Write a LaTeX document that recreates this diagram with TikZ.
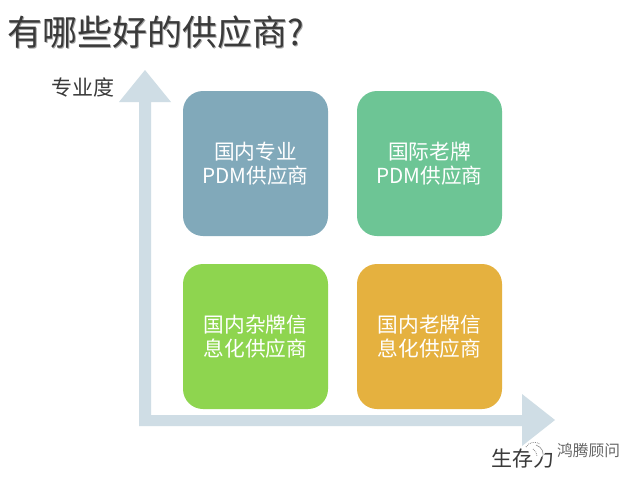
\documentclass[tikz,border=0pt]{standalone}
\usepackage{fontspec}
\setmainfont{Noto Sans CJK SC}
\usetikzlibrary{calc}
\definecolor{axiscol}{HTML}{CFDDE5}
\definecolor{bluebox}{HTML}{81A9BA}
\definecolor{greenbox}{HTML}{6DC595}
\definecolor{limebox}{HTML}{8ED54F}
\definecolor{orangebox}{HTML}{E5B13F}
\definecolor{textcol}{HTML}{3A3A3A}
\tikzset{
    pane/.style={minimum width=145pt, minimum height=145pt, rounded corners=20pt, inner sep=0pt, align=center,
        text=white, font=\fontsize{20.7pt}{23.5pt}\selectfont},
    axislabel/.style={text=textcol, inner sep=0pt, font=\fontsize{21pt}{25pt}\selectfont},
}
\begin{document}
\begin{tikzpicture}[x=1pt, y=-1pt]
    \useasboundingbox (0,0) rectangle (640,480);
    \fill[white] (0,0) rectangle (640,480);

    % axes
    \coordinate (O) at (139, 426);
    \coordinate (Y) at (145, 70);
    \coordinate (X) at (555, 420);
    \fill[axiscol] (O) -- (139, 102) -- (119, 102) -- (Y) -- (171, 102) -- (151, 102) -- (151, 415)
        -- (522, 415) -- (522, 394) -- (X) -- (522, 446) -- (522, 426) -- cycle;

    % panes
    \node[pane, fill=bluebox] (domestic) at (255.5, 163.5) {国内专业\\PDM供应商};
    \node[pane, fill=greenbox] (global) at (429.5, 163.5) {国际老牌\\PDM供应商};
    \node[pane, fill=limebox] (mixed) at (255.5, 336.5) {国内杂牌信\\息化供应商};
    \node[pane, fill=orangebox] (veteran) at (429.5, 336.5) {国内老牌信\\息化供应商};

    % title
    \node[anchor=west, inner sep=0pt, text=black!35, font=\fontsize{35pt}{38pt}\selectfont] at (8, 33.5) {有哪些好的供应商?};
    \node[anchor=west, inner sep=0pt, text=textcol, font=\fontsize{35pt}{38pt}\selectfont] (title) at (7, 32) {有哪些好的供应商?};

    \node[axislabel, anchor=west] (depth) at (51, 87) {专业度};
    \node[axislabel, anchor=west] (power) at (491, 459) {生存力};

    % watermark
    \fill[white] (537, 449) circle (9);
    \draw[black!45, densely dotted, line width=0.8pt] (526, 447) .. controls (529, 442) and (535, 441) .. (540, 444);
    \draw[black!45, line width=0.6pt] (536, 445) .. controls (542, 447) and (545, 453) .. (542, 459);
    \draw[black!45, densely dotted, line width=0.8pt] (533, 449) .. controls (535, 450) and (537, 453) .. (537, 456);
    \node[anchor=west, inner sep=0pt, text=black!60, font=\fontsize{15.7pt}{18pt}\selectfont] (mark) at (557, 451) {鸿腾顾问};
\end{tikzpicture}
\end{document}
